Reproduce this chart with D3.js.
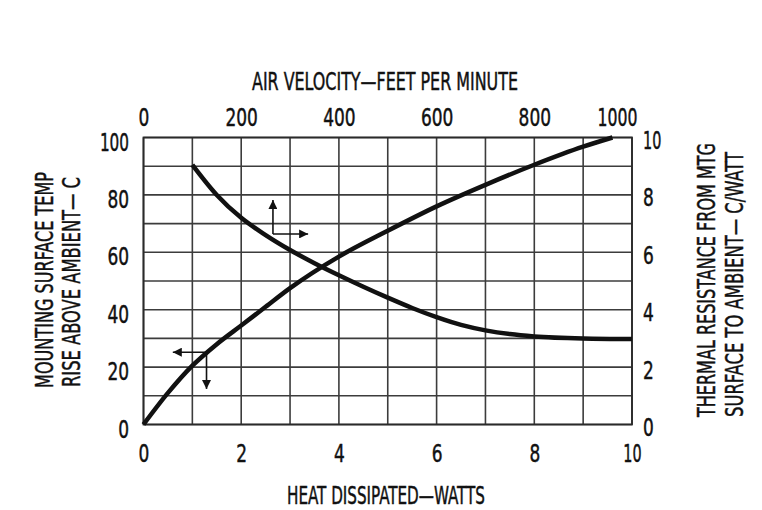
<!DOCTYPE html>
<html>
<head>
<meta charset="utf-8">
<script src="https://cdn.jsdelivr.net/npm/d3@7/dist/d3.min.js"></script>
<style>
  html, body { margin: 0; padding: 0; background: #fff; }
  svg text { font-family: "Liberation Sans Narrow", "DejaVu Sans Condensed", "Liberation Sans", sans-serif; fill: #111; stroke: #111; stroke-width: 0.45px; }
</style>
</head>
<body>
<svg id="chart" width="762" height="510"></svg>
<script>
// ---- data ----
const wattTicks = [0, 2, 4, 6, 8, 10];
const velocityTicks = [0, 200, 400, 600, 800, 1000];
const tempTicks = [0, 20, 40, 60, 80, 100];
const resistTicks = [0, 2, 4, 6, 8, 10];

// temperature rise (left axis) vs heat dissipated (bottom axis)
const heatWatts = [0, 0.5, 1, 1.5, 2, 2.5, 3, 4, 5, 6, 7, 8, 9, 9.6];
const tempRise  = [0, 11, 20.5, 28, 34.5, 41, 47.5, 58.5, 67.5, 76, 83.5, 90.5, 96.8, 100];

// thermal resistance (right axis) vs air velocity (top axis)
const airVelocity = [100, 150, 200, 250, 300, 350, 400, 450, 500, 550, 600, 650, 700, 750, 800, 900, 1000];
const thermalRes  = [9.05, 8.0, 7.2, 6.6, 6.08, 5.62, 5.2, 4.8, 4.42, 4.06, 3.74, 3.47, 3.28, 3.15, 3.07, 3.0, 2.98];

// direction arrows: [corner, tip1, tip2] in each curve's own units
const arrowRes  = { corner: [265, 6.64], tips: [[265, 7.82], [337, 6.64]] };   // velocity / resistance
const arrowTemp = { corner: [1.29, 25.2], tips: [[0.6, 25.2], [1.29, 12.4]] }; // watts / temp

const titleTop = "AIR VELOCITY\u2014FEET PER MINUTE";
const titleBottom = "HEAT DISSIPATED\u2014WATTS";
const titleLeft = ["MOUNTING SURFACE TEMP", "RISE ABOVE AMBIENT\u2014 C"];
const titleRight = ["THERMAL RESISTANCE FROM MTG", "SURFACE TO AMBIENT\u2014 C/WATT"];

// ---- layout ----
const L = 143.5, R = 632, T = 137.5, B = 424.5;
const svg = d3.select("#chart");

const xW = d3.scaleLinear().domain([0, 10]).range([L, R]);
const xV = d3.scaleLinear().domain([0, 1000]).range([L, R]);
const yT = d3.scaleLinear().domain([0, 100]).range([B, T]);
const yR = d3.scaleLinear().domain([0, 10]).range([B, T]);

const gridColor = "#3c3c3c";
// grid
const grid = svg.append("g");
grid.selectAll("line.v").data(d3.range(0, 11)).join("line")
  .attr("x1", d => xW(d)).attr("x2", d => xW(d))
  .attr("y1", T).attr("y2", B)
  .attr("stroke", gridColor).attr("stroke-width", 1.6);
grid.selectAll("line.h").data(d3.range(0, 101, 10)).join("line")
  .attr("y1", d => yT(d)).attr("y2", d => yT(d))
  .attr("x1", L).attr("x2", R)
  .attr("stroke", gridColor).attr("stroke-width", 1.6);
svg.append("rect").attr("x", L).attr("y", T).attr("width", R - L).attr("height", B - T)
  .attr("fill", "none").attr("stroke", "#2a2a2a").attr("stroke-width", 1.8);

const fs = 24;
function textW(s) { let w = 0; for (const c of s) w += (c === "1") ? 7.5 : 10.8; return w; }
function fitLen(sel) { sel.attr("textLength", function() { return textW(this.textContent); })
  .attr("lengthAdjust", "spacingAndGlyphs"); }

// axes (built with d3 axes, domain & tick lines hidden)
function styleAxis(g) {
  g.select(".domain").remove();
  g.selectAll(".tick line").remove();
  g.selectAll(".tick text").attr("font-size", fs).attr("font-family", null).attr("fill", "#111").call(fitLen);
}
const axB = svg.append("g").attr("transform", `translate(0,${B})`)
  .call(d3.axisBottom(xW).tickValues(wattTicks).tickFormat(d3.format("d")).tickSize(0).tickPadding(0));
styleAxis(axB);
axB.selectAll(".tick text").attr("dy", null).attr("y", 37);

const axT = svg.append("g").attr("transform", `translate(0,${T})`)
  .call(d3.axisTop(xV).tickValues(velocityTicks).tickFormat(d3.format("d")).tickSize(0).tickPadding(0));
styleAxis(axT);
axT.selectAll(".tick text").attr("dy", null).attr("y", -11.5)
  .filter(d => d === 1000).attr("text-anchor", "end").attr("x", 5);

const axL = svg.append("g").attr("transform", `translate(${L},0)`)
  .call(d3.axisLeft(yT).tickValues(tempTicks).tickFormat(d3.format("d")).tickSize(0).tickPadding(0));
styleAxis(axL);
axL.selectAll(".tick text").attr("x", -14.5).attr("dy", null).attr("y", 12.5);

const axR = svg.append("g").attr("transform", `translate(${R},0)`)
  .call(d3.axisRight(yR).tickValues(resistTicks).tickFormat(d3.format("d")).tickSize(0).tickPadding(0));
styleAxis(axR);
axR.selectAll(".tick text").attr("x", 11).attr("dy", null).attr("y", 11);

// titles
svg.append("text").attr("x", 385).attr("y", 90).attr("text-anchor", "middle")
  .attr("font-size", fs).attr("textLength", 266).attr("lengthAdjust", "spacingAndGlyphs").text(titleTop);
svg.append("text").attr("x", 386).attr("y", 504).attr("text-anchor", "middle")
  .attr("font-size", fs).attr("textLength", 198).attr("lengthAdjust", "spacingAndGlyphs").text(titleBottom);

const leftPos = [[53, 280, 216], [80, 282, 210]];
titleLeft.forEach((t, i) => {
  const [x, y, len] = leftPos[i];
  svg.append("text").attr("transform", `translate(${x},${y}) rotate(-90)`).attr("text-anchor", "middle")
    .attr("font-size", fs).attr("textLength", len).attr("lengthAdjust", "spacingAndGlyphs").text(t);
});
const rightPos = [[715, 280, 274], [743, 284.5, 265]];
titleRight.forEach((t, i) => {
  const [x, y, len] = rightPos[i];
  svg.append("text").attr("transform", `translate(${x},${y}) rotate(-90)`).attr("text-anchor", "middle")
    .attr("font-size", fs).attr("textLength", len).attr("lengthAdjust", "spacingAndGlyphs").text(t);
});

// curves
const lineTemp = d3.line().x((d, i) => xW(heatWatts[i])).y((d, i) => yT(tempRise[i])).curve(d3.curveMonotoneX);
svg.append("path").attr("d", lineTemp(heatWatts)).attr("fill", "none")
  .attr("stroke", "#111").attr("stroke-width", 4.5).attr("stroke-linecap", "butt");
const lineRes = d3.line().x((d, i) => xV(airVelocity[i])).y((d, i) => yR(thermalRes[i])).curve(d3.curveMonotoneX);
svg.append("path").attr("d", lineRes(airVelocity)).attr("fill", "none")
  .attr("stroke", "#111").attr("stroke-width", 4.5).attr("stroke-linecap", "butt");

// arrows
svg.append("defs").append("marker").attr("id", "ah").attr("viewBox", "0 0 10 10")
  .attr("refX", 10).attr("refY", 5).attr("markerWidth", 10).attr("markerHeight", 9)
  .attr("markerUnits", "userSpaceOnUse").attr("orient", "auto")
  .append("path").attr("d", "M0,0 L10,5 L0,10 Z").attr("fill", "#111");

function drawArrow(a, sx, sy) {
  a.tips.forEach(tp => {
    svg.append("line")
      .attr("x1", sx(a.corner[0])).attr("y1", sy(a.corner[1]))
      .attr("x2", sx(tp[0])).attr("y2", sy(tp[1]))
      .attr("stroke", "#111").attr("stroke-width", 1.6).attr("marker-end", "url(#ah)");
  });
}
drawArrow(arrowRes, xV, yR);
drawArrow(arrowTemp, xW, yT);
</script>
</body>
</html>
